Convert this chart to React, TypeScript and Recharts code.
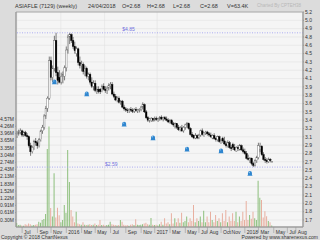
import {
  Bar,
  CartesianGrid,
  Cell,
  ComposedChart,
  ReferenceArea,
  ReferenceLine,
  Scatter,
  XAxis,
  YAxis,
} from 'recharts';

// weekly bars, week 0 = 8 Jun 2015 ... week 150 = 23 Apr 2018
const openP = [
  3.12, 3.15, 3.18, 3.2, 3.13, 3.17, 3.12, 3.1, 2.95, 2.85, 2.92, 3.02, 3.0, 2.95, 3.05, 3.2, 3.26, 3.45, 3.58, 3.75,
  4.38, 4.1, 4.25, 4.72, 4.18, 4.1, 4.02, 4.12, 4.12, 4.26, 4.56, 4.78, 4.82, 4.72, 4.62, 4.5, 4.58, 4.35, 4.3, 4.32,
  4.2, 4.25, 4.12, 4.15, 4.02, 3.95, 4.0, 3.88, 3.9, 3.9, 3.86, 3.95, 3.9, 3.88, 3.92, 3.96, 3.98, 3.82, 3.78, 3.72,
  3.75, 3.68, 3.7, 3.6, 3.57, 3.55, 3.54, 3.56, 3.55, 3.53, 3.56, 3.54, 3.55, 3.56, 3.6, 3.64, 3.52, 3.42, 3.38, 3.37,
  3.41, 3.38, 3.41, 3.39, 3.4, 3.43, 3.4, 3.42, 3.4, 3.38, 3.35, 3.37, 3.32, 3.28, 3.32, 3.26, 3.22, 3.25, 3.2, 3.26,
  3.3, 3.32, 3.24, 3.14, 3.12, 3.08, 3.12, 3.08, 3.13, 3.2, 3.12, 3.17, 3.18, 3.15, 3.13, 3.08, 3.12, 3.07, 3.05, 3.1,
  3.02, 3.07, 3.03, 2.98, 2.95, 3.0, 2.92, 2.97, 2.92, 2.86, 2.92, 2.88, 2.95, 2.88, 2.85, 2.82, 2.74, 2.7, 2.74, 2.65,
  2.62, 2.7, 2.75, 2.88, 2.94, 2.8, 2.72, 2.7, 2.68, 2.72, 2.68,
];
const highP = [
  3.2, 3.22, 3.24, 3.22, 3.2, 3.2, 3.16, 3.12, 3.0, 2.95, 3.05, 3.08, 3.04, 3.08, 3.22, 3.3, 3.48, 3.62, 3.78, 4.45,
  4.45, 4.3, 4.8, 4.85, 4.28, 4.22, 4.18, 4.2, 4.3, 4.62, 4.82, 4.85, 4.84, 4.78, 4.7, 4.62, 4.6, 4.45, 4.38, 4.35,
  4.3, 4.28, 4.18, 4.18, 4.1, 4.05, 4.05, 3.95, 3.95, 3.92, 3.98, 4.0, 3.95, 3.95, 4.0, 4.02, 4.02, 3.86, 3.82, 3.78,
  3.78, 3.72, 3.72, 3.64, 3.6, 3.58, 3.58, 3.6, 3.58, 3.58, 3.6, 3.57, 3.58, 3.62, 3.68, 3.66, 3.55, 3.45, 3.42, 3.43,
  3.42, 3.44, 3.44, 3.42, 3.45, 3.46, 3.44, 3.45, 3.44, 3.41, 3.4, 3.4, 3.35, 3.34, 3.33, 3.3, 3.28, 3.3, 3.28, 3.32,
  3.35, 3.34, 3.26, 3.18, 3.14, 3.16, 3.14, 3.15, 3.22, 3.24, 3.18, 3.2, 3.2, 3.18, 3.17, 3.14, 3.16, 3.1, 3.12, 3.12,
  3.06, 3.1, 3.1, 3.02, 3.04, 3.03, 2.96, 3.0, 2.98, 2.94, 2.96, 2.98, 2.97, 2.92, 2.9, 2.86, 2.8, 2.76, 2.75, 2.68,
  2.72, 2.78, 3.0, 3.0, 2.96, 2.84, 2.76, 2.74, 2.75, 2.74, 2.68,
];
const lowP = [
  3.08, 3.12, 3.14, 3.1, 3.1, 3.1, 3.05, 2.92, 2.78, 2.82, 2.88, 2.95, 2.9, 2.92, 3.02, 3.15, 3.22, 3.4, 3.52, 3.72,
  4.05, 4.02, 4.2, 4.12, 3.98, 4.0, 3.98, 4.0, 4.05, 4.2, 4.5, 4.66, 4.68, 4.58, 4.5, 4.45, 4.3, 4.25, 4.2, 4.15,
  4.12, 4.08, 4.05, 3.98, 3.92, 3.88, 3.85, 3.82, 3.83, 3.82, 3.85, 3.88, 3.84, 3.82, 3.88, 3.9, 3.8, 3.75, 3.7, 3.68,
  3.66, 3.64, 3.58, 3.54, 3.52, 3.5, 3.5, 3.52, 3.5, 3.5, 3.52, 3.5, 3.51, 3.53, 3.56, 3.5, 3.4, 3.35, 3.34, 3.35,
  3.35, 3.36, 3.37, 3.35, 3.37, 3.38, 3.36, 3.38, 3.36, 3.33, 3.32, 3.3, 3.27, 3.24, 3.23, 3.2, 3.19, 3.18, 3.17, 3.22,
  3.25, 3.22, 3.12, 3.08, 3.06, 3.06, 3.06, 3.06, 3.1, 3.12, 3.1, 3.13, 3.12, 3.1, 3.08, 3.06, 3.05, 3.02, 3.02, 3.0,
  2.98, 3.0, 2.96, 2.92, 2.92, 2.9, 2.86, 2.88, 2.86, 2.85, 2.86, 2.87, 2.86, 2.82, 2.8, 2.72, 2.7, 2.66, 2.62, 2.59,
  2.6, 2.66, 2.72, 2.84, 2.78, 2.7, 2.66, 2.65, 2.66, 2.67, 2.68,
];
const closeP = [
  3.15, 3.18, 3.2, 3.13, 3.17, 3.12, 3.1, 2.95, 2.85, 2.92, 3.02, 3.0, 2.95, 3.05, 3.2, 3.26, 3.45, 3.58, 3.75, 4.38,
  4.1, 4.25, 4.72, 4.18, 4.05, 4.02, 4.12, 4.15, 4.26, 4.56, 4.78, 4.82, 4.72, 4.62, 4.55, 4.58, 4.35, 4.3, 4.32, 4.2,
  4.25, 4.12, 4.15, 4.02, 3.95, 4.0, 3.88, 3.9, 3.86, 3.86, 3.95, 3.9, 3.88, 3.92, 3.96, 3.98, 3.82, 3.78, 3.72, 3.75,
  3.68, 3.7, 3.6, 3.57, 3.55, 3.54, 3.56, 3.55, 3.53, 3.56, 3.54, 3.55, 3.56, 3.6, 3.64, 3.52, 3.42, 3.38, 3.4, 3.41,
  3.38, 3.41, 3.39, 3.4, 3.43, 3.4, 3.42, 3.4, 3.38, 3.35, 3.37, 3.32, 3.3, 3.32, 3.26, 3.22, 3.25, 3.2, 3.26, 3.3,
  3.32, 3.24, 3.14, 3.1, 3.08, 3.12, 3.08, 3.13, 3.2, 3.14, 3.17, 3.18, 3.15, 3.13, 3.1, 3.12, 3.07, 3.05, 3.1, 3.02,
  3.04, 3.03, 2.98, 2.95, 3.0, 2.92, 2.9, 2.92, 2.88, 2.92, 2.9, 2.95, 2.88, 2.85, 2.82, 2.74, 2.72, 2.74, 2.65, 2.62,
  2.7, 2.75, 2.95, 2.94, 2.8, 2.72, 2.7, 2.68, 2.72, 2.7, 2.68,
];
// volume in millions
const volumeM = [
  0.17, 0.08, 0.1, 0.06, 0.05, 0.12, 0.1, 0.15, 0.12, 0.06, 0.08, 0.1, 0.12, 0.22, 0.18, 0.3, 0.34, 0.55, 3.3, 4.25,
  0.8, 0.44, 2.27, 0.4, 0.82, 0.5, 0.2, 0.3, 0.93, 0.6, 3.26, 1.9, 0.72, 0.44, 0.2, 0.65, 0.15, 0.12, 0.1, 0.2,
  0.1, 0.08, 0.1, 0.12, 0.08, 0.1, 0.15, 0.08, 0.1, 0.3, 0.08, 0.1, 0.06, 0.08, 0.1, 0.22, 0.12, 0.1, 0.08, 0.06,
  0.08, 0.3, 0.22, 0.1, 0.06, 0.08, 0.05, 0.1, 0.12, 0.08, 0.33, 0.1, 0.08, 0.1, 0.12, 0.15, 0.18, 0.12, 0.1, 0.38,
  0.1, 0.08, 0.1, 0.06, 0.12, 0.22, 0.1, 0.37, 0.15, 0.2, 0.12, 0.58, 0.15, 0.37, 0.2, 0.37, 0.18, 0.6, 0.2, 0.25,
  0.44, 0.2, 0.37, 0.25, 0.93, 0.2, 0.37, 0.25, 0.44, 0.2, 0.69, 0.2, 0.44, 0.2, 0.65, 0.3, 0.2, 0.51, 0.25, 0.37,
  0.2, 0.58, 0.25, 0.72, 0.2, 0.44, 0.25, 0.58, 0.25, 0.65, 0.2, 0.44, 0.25, 0.65, 0.3, 1.1, 0.3, 0.51, 0.35, 0.65,
  0.37, 0.3, 1.96, 1.24, 1.14, 0.4, 0.67, 0.45, 0.25, 0.2, 0.0634,
];

// x-axis: week index of the week holding the 1st of the month
const monthTicks = [3, 12, 20, 29, 38, 46, 55, 64, 73, 81, 90, 99, 107, 112, 120, 125, 134, 142, 151, 159, 164];
const monthLabels = ['Jul', 'Sep', 'Nov', '2016', 'Mar', 'May', 'Jul', 'Sep', 'Nov', '2017', 'Mar', 'May', 'Jul', 'Aug', 'Oct', 'Nov', '2018', 'Mar', 'May', 'Jul', 'Aug'];

const priceTicks = [5.2, 5.06, 4.92, 4.78, 4.64, 4.5, 4.36, 4.22, 4.08, 3.94, 3.8, 3.66, 3.52, 3.38, 3.24, 3.1, 2.96, 2.82, 2.68, 2.54, 2.4, 2.26, 2.12, 1.98, 1.84, 1.7];
const priceLabels = ['5.2', '5.0', '4.9', '4.8', '4.6', '4.5', '4.3', '4.2', '4.1', '3.9', '3.8', '3.6', '3.5', '3.4', '3.2', '3.1', '2.9', '2.8', '2.7', '2.5', '2.4', '2.3', '2.1', '2.0', '1.8', '1.7'];

const volTicks = [0.3045, 0.609, 0.9135, 1.218, 1.5225, 1.827, 2.1315, 2.436, 2.7405, 3.045, 3.3495, 3.654, 3.9585, 4.263, 4.5675];
const volLabels = ['0.30M', '0.61M', '0.91M', '1.22M', '1.52M', '1.83M', '2.13M', '2.43M', '2.74M', '3.04M', '3.35M', '3.65M', '3.96M', '4.26M', '4.57M'];

const signalWeeks = [22, 41, 63, 80, 100, 120, 137];
const signalPrices = [4.02, 3.82, 3.31, 3.08, 2.89, 2.86, 2.48];

const highLine = 4.85;
const lowLine = 2.59;

const xDomain = [-0.6, 168.2];
const priceDomain = [1.582, 5.2];
const volDomain = [0, 9.1];

const rows = closeP.map((c, i) => ({
  week: i,
  open: openP[i],
  high: highP[i],
  low: lowP[i],
  close: c,
  range: [lowP[i], highP[i]],
  vol: volumeM[i],
}));
const signals = signalWeeks.map((w, i) => ({ week: w, price: signalPrices[i] }));
const gridTicks = Array.from({ length: 34 }, (_, k) => k * 5.15);

const FONT = '"Liberation Sans", Arial, sans-serif';

function Candle(props: any) {
  const { x, y, width, height, payload } = props;
  if (x == null || payload == null) return null;
  const top = Math.min(y, y + height);
  const h = Math.abs(height);
  const { open, high, low, close } = payload;
  const span = high - low || 1;
  const py = (v: number) => top + ((high - v) / span) * h;
  const cx = x + width / 2;
  const up = close >= open;
  const bodyTop = py(Math.max(open, close));
  const bodyH = Math.max(py(Math.min(open, close)) - bodyTop, 0.7);
  return (
    <g>
      <line x1={cx} x2={cx} y1={top} y2={top + h} stroke="#444" strokeWidth={0.7} />
      <rect
        x={cx - 0.8}
        y={bodyTop}
        width={1.6}
        height={bodyH}
        fill={up ? '#fff' : '#000'}
        stroke={up ? '#666' : '#000'}
        strokeWidth={0.4}
      />
    </g>
  );
}

function Bell({ cx, cy }: any) {
  if (cx == null) return null;
  return (
    <g>
      <path
        d={`M${cx - 2.6},${cy + 2.2} L${cx + 2.6},${cy + 2.2} L${cx + 2},${cy + 1.2} L${cx + 2},${cy - 0.6} Q${cx + 2},${cy - 2.6} ${cx},${cy - 2.6} Q${cx - 2},${cy - 2.6} ${cx - 2},${cy - 0.6} L${cx - 2},${cy + 1.2} Z`}
        fill="#2f86cf"
      />
      <circle cx={cx - 0.6} cy={cy - 1.2} r={0.7} fill="#8cc4ee" />
    </g>
  );
}

function lineLabel(text: string, frac: number) {
  return (p: any) => {
    const vb = p.viewBox;
    return (
      <text x={vb.x + vb.width * frac} y={vb.y - 1.5} fontSize={5} fill="#6f6fe0" fontFamily={FONT}>
        {text}
      </text>
    );
  };
}

export default function App() {
  const tStyle = { position: 'absolute' as const, top: 3, fontSize: 5.5, color: '#333', whiteSpace: 'nowrap' as const, lineHeight: '6px' };
  return (
    <div style={{ position: 'absolute', left: 0, top: 0, width: 320, height: 240, background: '#dcdcdc', fontFamily: FONT, overflow: 'hidden' }}>
      <ComposedChart width={320} height={240} data={rows} margin={{ top: 12, right: 0, bottom: 0, left: 0 }}>
        <CartesianGrid xAxisId="grid" yAxisId="price" fill="#f5f5f5" stroke="#e3e3e3" strokeWidth={0.6} />
        <XAxis
          xAxisId="main"
          dataKey="week"
          type="number"
          domain={xDomain}
          allowDataOverflow
          ticks={monthTicks}
          interval={0}
          height={13}
          tickSize={6}
          tickMargin={-3}
          tickLine={{ stroke: '#999', strokeWidth: 0.6 }}
          axisLine={{ stroke: '#999' }}
          tick={{ fontSize: 5, fill: '#333', fontFamily: FONT, textAnchor: 'start', dx: 2 }}
          tickFormatter={(v: number) => monthLabels[monthTicks.indexOf(v)]}
        />
        <XAxis xAxisId="v" orientation="top" height={0} dataKey="week" type="number" domain={xDomain} allowDataOverflow hide />
        <XAxis xAxisId="grid" orientation="top" height={0} dataKey="week" type="number" domain={xDomain} allowDataOverflow ticks={gridTicks} hide />
        <YAxis
          yAxisId="vol"
          orientation="left"
          width={16}
          domain={volDomain}
          allowDataOverflow
          ticks={volTicks}
          interval={0}
          tickSize={1}
          tickMargin={1}
          axisLine={{ stroke: '#999' }}
          tickLine={{ stroke: '#999' }}
          tick={{ fontSize: 5, fill: '#333', fontFamily: FONT }}
          tickFormatter={(v: number) => volLabels[volTicks.indexOf(v)]}
        />
        <YAxis
          yAxisId="price"
          orientation="right"
          width={17}
          domain={priceDomain}
          allowDataOverflow
          ticks={priceTicks}
          interval={0}
          tickSize={1}
          tickMargin={1}
          axisLine={{ stroke: '#999' }}
          tickLine={{ stroke: '#999' }}
          tick={{ fontSize: 5, fill: '#333', fontFamily: FONT }}
          tickFormatter={(v: number) => priceLabels[priceTicks.indexOf(v)]}
        />
        <ReferenceArea
          xAxisId="main"
          yAxisId="price"
          x1={xDomain[0]}
          x2={xDomain[1]}
          y1={priceDomain[0]}
          y2={priceDomain[1]}
          fill="none"
          stroke="#999"
          strokeWidth={0.8}
        />
        <Bar xAxisId="v" yAxisId="vol" dataKey="vol" barSize={1} isAnimationActive={false}>
          {rows.map((r) => (
            <Cell key={r.week} fill={r.close >= r.open ? '#8dbf7c' : '#e8afa0'} />
          ))}
        </Bar>
        <ReferenceLine
          xAxisId="main"
          yAxisId="price"
          y={highLine}
          stroke="#9a9af0"
          strokeDasharray="1 1.5"
          strokeWidth={0.8}
          label={lineLabel('$4.85', 0.37)}
        />
        <ReferenceLine
          xAxisId="main"
          yAxisId="price"
          y={lowLine}
          stroke="#9a9af0"
          strokeDasharray="1 1.5"
          strokeWidth={0.8}
          label={lineLabel('$2.59', 0.31)}
        />
        <Bar xAxisId="main" yAxisId="price" dataKey="range" barSize={1.6} shape={<Candle />} isAnimationActive={false} />
        <Scatter xAxisId="main" yAxisId="price" data={signals} dataKey="price" shape={<Bell />} isAnimationActive={false} />
      </ComposedChart>
      <div style={{ ...tStyle, left: 15 }}>ASIAFLE (7129) (weekly)</div>
      <div style={{ ...tStyle, left: 88 }}>24/04/2018</div>
      <div style={{ ...tStyle, left: 122 }}>O=2.68</div>
      <div style={{ ...tStyle, left: 147 }}>H=2.68</div>
      <div style={{ ...tStyle, left: 173 }}>L=2.68</div>
      <div style={{ ...tStyle, left: 200 }}>C=2.68</div>
      <div style={{ ...tStyle, left: 227 }}>V=63.4K</div>
      <div style={{ ...tStyle, left: 257, fontSize: 4.5, color: '#b8b8b8' }}>Charted By CPTEH38</div>
      <div style={{ position: 'absolute', left: 1, top: 234, fontSize: 5, color: '#333', whiteSpace: 'nowrap', lineHeight: '6px' }}>
        Copyright © 2018 ChartNexus
      </div>
      <div style={{ position: 'absolute', right: 2, top: 234, fontSize: 5, color: '#333', whiteSpace: 'nowrap', lineHeight: '6px' }}>
        Powered by www.sharenexus.com
      </div>
    </div>
  );
}
